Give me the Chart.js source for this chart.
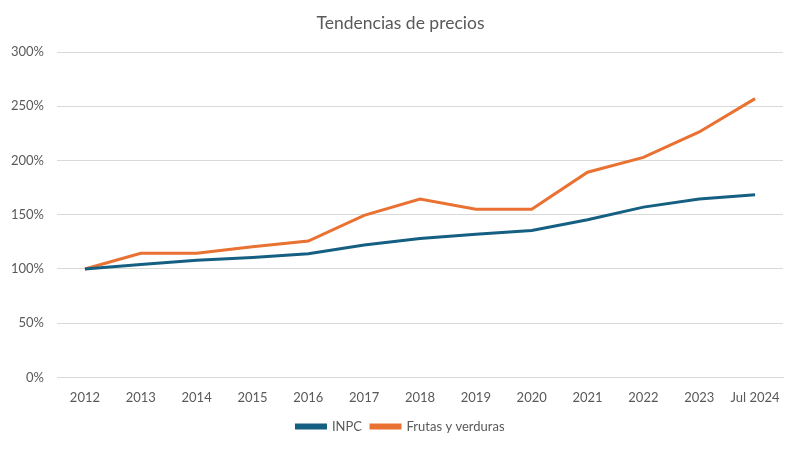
<!DOCTYPE html>
<html>
<head>
<meta charset="utf-8">
<script src="https://cdn.jsdelivr.net/npm/chart.js@4/dist/chart.umd.min.js"></script>
<style>
  html, body { margin: 0; padding: 0; background: #fff; }
  #wrap { width: 800px; height: 449px; }
</style>
</head>
<body>
<div id="wrap"><canvas id="priceChart" width="800" height="449"></canvas></div>
<script>
// Datos (índice, 2012 = 100%)
const categories = ['2012', '2013', '2014', '2015', '2016', '2017', '2018', '2019', '2020', '2021', '2022', '2023', 'Jul 2024'];
const inpcValues = [1.00, 1.04, 1.08, 1.105, 1.14, 1.22, 1.28, 1.32, 1.355, 1.454, 1.57, 1.645, 1.685];
const frutasValues = [1.00, 1.145, 1.145, 1.205, 1.257, 1.494, 1.645, 1.55, 1.55, 1.892, 2.028, 2.263, 2.57];
const yTicks = [0, 0.5, 1, 1.5, 2, 2.5, 3];

const colors = {
  inpc: '#156082',
  frutas: '#E97132',
  text: '#595959',
  grid: '#d9d9d9'
};

const fontFamily = 'Lato, "Open Sans", sans-serif';

// centra título y leyenda respecto al ancho total del lienzo
const centerShift = {
  id: 'centerShift',
  afterLayout(chart) {
    [chart.legend, chart.titleBlock].forEach(box => {
      if (box) {
        box.left += 8;
        box.right += 8;
      }
    });
  }
};

const ctx = document.getElementById('priceChart').getContext('2d');
new Chart(ctx, {
  type: 'line',
  data: {
    labels: categories,
    datasets: [
      {
        label: 'INPC',
        data: inpcValues,
        borderColor: colors.inpc,
        backgroundColor: colors.inpc,
        borderWidth: 3,
        pointRadius: 0,
        tension: 0,
        fill: false
      },
      {
        label: 'Frutas y verduras',
        data: frutasValues,
        borderColor: colors.frutas,
        backgroundColor: colors.frutas,
        borderWidth: 3,
        pointRadius: 0,
        tension: 0,
        fill: false
      }
    ]
  },
  options: {
    responsive: false,
    animation: false,
    devicePixelRatio: 1,
    layout: {
      padding: { left: 2, right: 17, top: 7, bottom: 6 }
    },
    plugins: {
      title: {
        display: true,
        text: 'Tendencias de precios',
        color: colors.text,
        font: { family: fontFamily, size: 17.5, weight: 'normal' },
        padding: { top: 6, bottom: 18 }
      },
      legend: {
        position: 'bottom',
        labels: {
          color: colors.text,
          font: { family: fontFamily, size: 13 },
          boxWidth: 29,
          boxHeight: 3,
          padding: 9
        }
      },
      tooltip: { enabled: false }
    },
    scales: {
      x: {
        offset: true,
        grid: { display: false },
        border: { color: colors.grid },
        ticks: {
          color: colors.text,
          font: { family: fontFamily, size: 13 },
          maxRotation: 0,
          autoSkip: false,
          padding: 5
        }
      },
      y: {
        min: 0,
        max: 3,
        afterBuildTicks: axis => {
          axis.ticks = yTicks.map(v => ({ value: v }));
        },
        afterFit: axis => {
          axis.width = 55;
        },
        grid: { color: colors.grid, drawTicks: false },
        border: { display: false },
        ticks: {
          color: colors.text,
          font: { family: fontFamily, size: 13 },
          padding: 13,
          callback: v => Math.round(v * 100) + '%'
        }
      }
    }
  },
  plugins: [centerShift]
});
</script>
</body>
</html>
